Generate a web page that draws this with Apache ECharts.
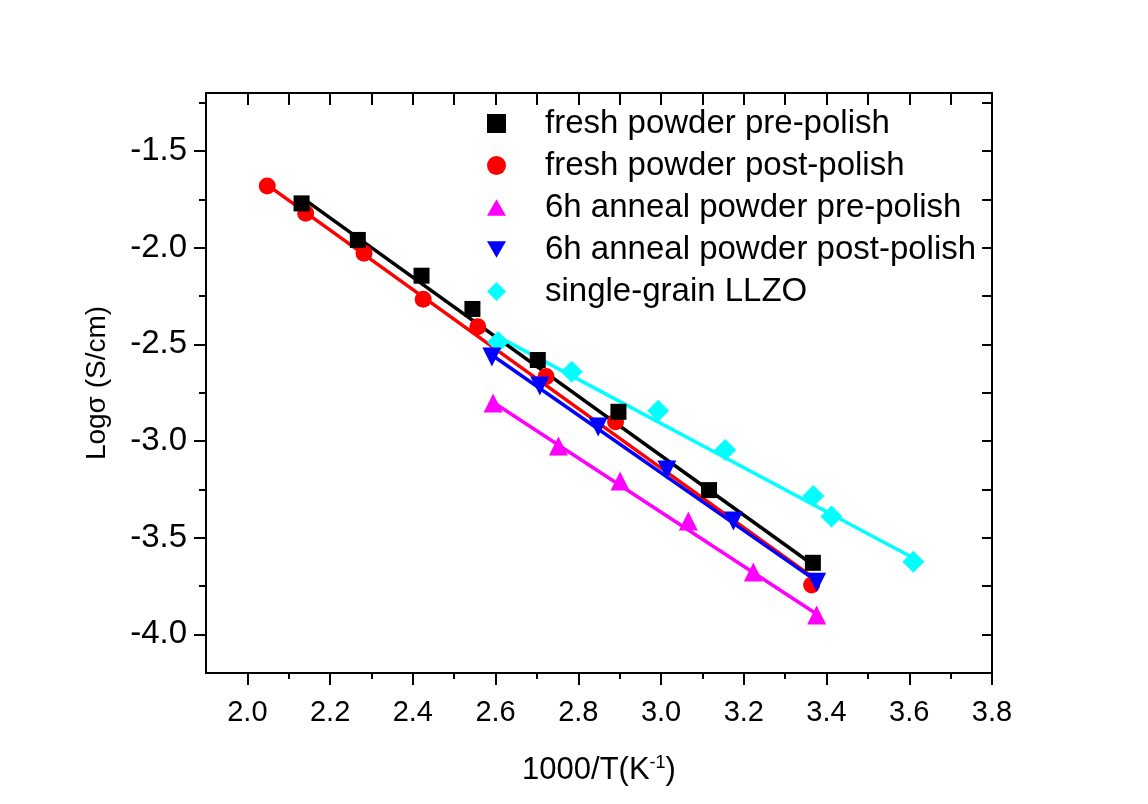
<!DOCTYPE html>
<html>
<head>
<meta charset="utf-8">
<script src="https://cdn.jsdelivr.net/npm/echarts@6/dist/echarts.min.js"></script>
<style>
html,body{margin:0;padding:0;background:#fff;}
#c{width:1148px;height:804px;}
</style>
</head>
<body>
<div id="c"></div>
<script>
// ---- data ----
var seriesNames = ['fresh powder pre-polish','fresh powder post-polish','6h anneal powder pre-polish','6h anneal powder post-polish','single-grain LLZO'];

var freshPreX  = [2.131, 2.267, 2.421, 2.544, 2.702, 2.897, 3.116, 3.367];
var freshPreY  = [-1.771, -1.960, -2.145, -2.317, -2.581, -2.849, -3.254, -3.630];
var freshPostX = [2.048, 2.141, 2.282, 2.425, 2.557, 2.722, 2.890, 3.364];
var freshPostY = [-1.681, -1.822, -2.029, -2.267, -2.409, -2.667, -2.900, -3.745];
var annPreX    = [2.594, 2.752, 2.901, 3.066, 3.223, 3.376];
var annPreY    = [-2.804, -3.026, -3.207, -3.414, -3.678, -3.900];
var annPostX   = [2.591, 2.707, 2.848, 3.014, 3.175, 3.376];
var annPostY   = [-2.566, -2.716, -2.928, -3.150, -3.414, -3.730];
var singleX    = [2.606, 2.784, 2.993, 3.155, 3.368, 3.412, 3.610];
var singleY    = [-2.488, -2.642, -2.843, -3.047, -3.285, -3.391, -3.625];

// fitted-line endpoints
var fitFreshPreX  = [2.131, 3.367];  var fitFreshPreY  = [-1.740, -3.640];
var fitFreshPostX = [2.048, 3.364];  var fitFreshPostY = [-1.675, -3.700];
var fitAnnPreX    = [2.594, 3.376];  var fitAnnPreY    = [-2.800, -3.895];
var fitAnnPostX   = [2.591, 3.376];  var fitAnnPostY   = [-2.555, -3.725];
var fitSingleX    = [2.606, 3.610];  var fitSingleY    = [-2.460, -3.605];

var xMajor = [2.0, 2.2, 2.4, 2.6, 2.8, 3.0, 3.2, 3.4, 3.6, 3.8];
var xMinor = [2.1, 2.3, 2.5, 2.7, 2.9, 3.1, 3.3, 3.5, 3.7];
var xTop   = [2.0, 2.1, 2.2, 2.3, 2.4, 2.5, 2.6, 2.7, 2.8, 2.9, 3.0, 3.1, 3.2, 3.3, 3.4, 3.5, 3.6, 3.7];
var yMajor = [-4.0, -3.5, -3.0, -2.5, -2.0, -1.5];
var yMinor = [-3.75, -3.25, -2.75, -2.25, -1.75, -1.25];
var yRight = [-4.0, -3.75, -3.5, -3.25, -3.0, -2.75, -2.5, -2.25, -2.0, -1.75, -1.5, -1.25];

var colors = ['#000000', '#ff0000', '#ff00ff', '#0000ff', '#00ffff'];

function zip(xs, ys){ return xs.map(function(x,i){ return [x, ys[i]]; }); }

var downTri = 'path://M0,0 L20,0 L10,17.3 Z';
var upTri = 'path://M10,0 L20,17.3 L0,17.3 Z';
var square = 'path://M0,0 L10,0 L10,10 L0,10 Z';

var FONT = '"Liberation Sans", Arial, sans-serif';

var chart = echarts.init(document.getElementById('c'), null, {renderer:'canvas'});

var axisLineStyle = {color:'#000', width:2};

var option = {
  backgroundColor: '#ffffff',
  animation: false,
  grid: {left:206, right:156, top:93, bottom:131, containLabel:false},
  legend: {
    orient: 'vertical',
    left: 482,
    top: 102,
    itemWidth: 19,
    itemHeight: 19,
    itemGap: 9,
    textStyle: {fontFamily: FONT, fontSize: 33, color:'#000', padding:[0,0,0,34], lineHeight: 28},
    data: [
      {name: seriesNames[0], icon: square},
      {name: seriesNames[1], icon: 'circle'},
      {name: seriesNames[2], icon: upTri},
      {name: seriesNames[3], icon: downTri},
      {name: seriesNames[4], icon: 'diamond'}
    ]
  },
  xAxis: [
    { // bottom main
      type:'value', min:1.9, max:3.8, position:'bottom',
      axisLine:{show:true, onZero:false, lineStyle:axisLineStyle},
      axisTick:{show:true, inside:false, length:12, lineStyle:{width:2,color:'#000'}, customValues: xMajor},
      axisLabel:{show:true, customValues: xMajor, margin:25, fontFamily: FONT, fontSize:29, color:'#000',
        formatter: function(v){ return v.toFixed(1); }},
      splitLine:{show:false},
      name: '1000/T(K{sup|-1})',
      nameLocation:'middle', nameGap: 81,
      nameTextStyle:{fontFamily: FONT, fontSize:31, color:'#000',
        rich:{sup:{fontFamily: FONT, fontSize:18, color:'#000', padding:[0,0,15,0]}}}
    },
    { // bottom minor ticks
      type:'value', min:1.9, max:3.8, position:'bottom',
      axisLine:{show:false, onZero:false},
      axisTick:{show:true, inside:false, length:6, lineStyle:{width:2,color:'#000'}, customValues: xMinor},
      axisLabel:{show:false}, splitLine:{show:false}
    },
    { // top
      type:'value', min:1.9, max:3.8, position:'top',
      axisLine:{show:true, onZero:false, lineStyle:axisLineStyle},
      axisTick:{show:true, inside:true, length:12, lineStyle:{width:2,color:'#000'}, customValues: xTop},
      axisLabel:{show:false}, splitLine:{show:false}
    }
  ],
  yAxis: [
    { // left main
      type:'value', min:-4.2, max:-1.2, position:'left',
      axisLine:{show:true, onZero:false, lineStyle:axisLineStyle},
      axisTick:{show:true, inside:false, length:12, lineStyle:{width:2,color:'#000'}, customValues: yMajor},
      axisLabel:{show:true, customValues: yMajor, margin:19, fontFamily: FONT, fontSize:33, color:'#000',
        formatter: function(v){ return v.toFixed(1); }},
      splitLine:{show:false},
      name: 'Logσ (S/cm)', nameLocation:'middle', nameGap: 95, nameRotate: 90,
      nameTextStyle:{fontFamily: FONT, fontSize:28, color:'#000'}
    },
    { // left minor
      type:'value', min:-4.2, max:-1.2, position:'left',
      axisLine:{show:false, onZero:false},
      axisTick:{show:true, inside:false, length:7, lineStyle:{width:2,color:'#000'}, customValues: yMinor},
      axisLabel:{show:false}, splitLine:{show:false}
    },
    { // right
      type:'value', min:-4.2, max:-1.2, position:'right',
      axisLine:{show:true, onZero:false, lineStyle:axisLineStyle},
      axisTick:{show:true, inside:true, length:10, lineStyle:{width:2,color:'#000'}, customValues: yRight},
      axisLabel:{show:false}, splitLine:{show:false}
    }
  ],
  series: []
};

var pts = [
  [freshPreX, freshPreY, square, 16],
  [freshPostX, freshPostY, 'circle', 17],
  [annPreX, annPreY, upTri, 19],
  [annPostX, annPostY, downTri, 19],
  [singleX, singleY, 'diamond', 22]
];
var fits = [
  [fitFreshPreX, fitFreshPreY],
  [fitFreshPostX, fitFreshPostY],
  [fitAnnPreX, fitAnnPreY],
  [fitAnnPostX, fitAnnPostY],
  [fitSingleX, fitSingleY]
];
// drawing order (bottom -> top)
var order = [4, 2, 1, 3, 0];
order.forEach(function(i, k){
  option.series.push({
    name: 'fit ' + i, type:'line', xAxisIndex:0, yAxisIndex:0,
    data: zip(fits[i][0], fits[i][1]), showSymbol:false, symbol:'none',
    lineStyle:{color: colors[i], width:3.5}, z: 2 + k*0.01, silent:true
  });
});
order.forEach(function(i, k){
  option.series.push({
    name: seriesNames[i], type:'scatter', xAxisIndex:0, yAxisIndex:0,
    data: zip(pts[i][0], pts[i][1]), symbol: pts[i][2], symbolSize: pts[i][3],
    itemStyle:{color: colors[i], opacity:1}, z: 3 + k*0.01
  });
});

chart.setOption(option);
</script>
</body>
</html>
